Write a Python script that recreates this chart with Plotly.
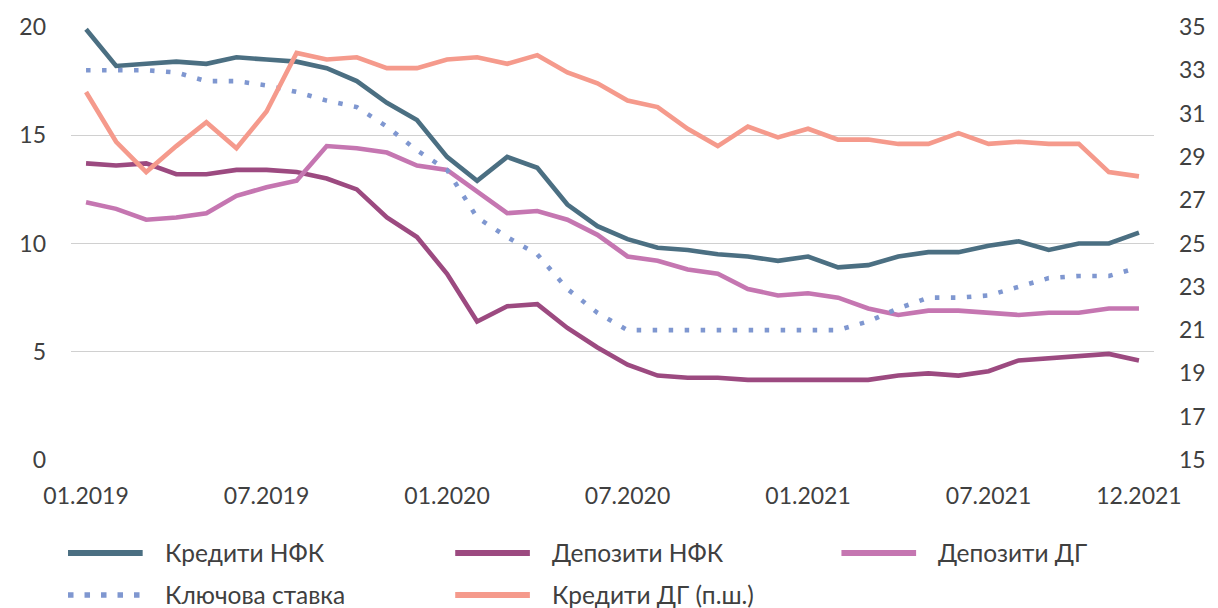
import plotly.graph_objects as go

# ---- data ----
months = [f"{m:02d}.{y}" for y in (2019, 2020, 2021) for m in range(1, 13)]

credits_nfk = [19.9, 18.2, 18.3, 18.4, 18.3, 18.6, 18.5, 18.4, 18.1, 17.5, 16.5, 15.7,
               14.0, 12.9, 14.0, 13.5, 11.8, 10.8, 10.2, 9.8, 9.7, 9.5, 9.4, 9.2,
               9.4, 8.9, 9.0, 9.4, 9.6, 9.6, 9.9, 10.1, 9.7, 10.0, 10.0, 10.5]
deposits_nfk = [13.7, 13.6, 13.7, 13.2, 13.2, 13.4, 13.4, 13.3, 13.0, 12.5, 11.2, 10.3,
                8.6, 6.4, 7.1, 7.2, 6.1, 5.2, 4.4, 3.9, 3.8, 3.8, 3.7, 3.7,
                3.7, 3.7, 3.7, 3.9, 4.0, 3.9, 4.1, 4.6, 4.7, 4.8, 4.9, 4.6]
deposits_hh = [11.9, 11.6, 11.1, 11.2, 11.4, 12.2, 12.6, 12.9, 14.5, 14.4, 14.2, 13.6,
               13.4, 12.4, 11.4, 11.5, 11.1, 10.4, 9.4, 9.2, 8.8, 8.6, 7.9, 7.6,
               7.7, 7.5, 7.0, 6.7, 6.9, 6.9, 6.8, 6.7, 6.8, 6.8, 7.0, 7.0]
key_rate = [18.0, 18.0, 18.0, 17.9, 17.5, 17.5, 17.3, 17.0, 16.6, 16.3, 15.4, 14.3,
            13.4, 11.2, 10.3, 9.5, 7.9, 6.8, 6.0, 6.0, 6.0, 6.0, 6.0, 6.0,
            6.0, 6.0, 6.4, 7.0, 7.5, 7.5, 7.6, 8.0, 8.4, 8.5, 8.5, 8.9]
credits_hh = [32.0, 29.7, 28.3, 29.5, 30.6, 29.4, 31.1, 33.8, 33.5, 33.6, 33.1, 33.1,
              33.5, 33.6, 33.3, 33.7, 32.9, 32.4, 31.6, 31.3, 30.3, 29.5, 30.4, 29.9,
              30.3, 29.8, 29.8, 29.6, 29.6, 30.1, 29.6, 29.7, 29.6, 29.6, 28.3, 28.1]

names = ["Кредити НФК", "Депозити НФК", "Депозити ДГ", "Ключова ставка", "Кредити ДГ (п.ш.)"]
x_tick_labels = ["01.2019", "07.2019", "01.2020", "07.2020", "01.2021", "07.2021", "12.2021"]
left_ticks = [0, 5, 10, 15, 20]
right_ticks = [15, 17, 19, 21, 23, 25, 27, 29, 31, 33, 35]

# ---- styles ----
colors = ["#4b6f82", "#9c4a80", "#c576b1", "#7f97d0", "#f59a8c"]
dashes = ["solid", "solid", "solid", "4.5px,11.5px", "solid"]
series = [credits_nfk, deposits_nfk, deposits_hh, key_rate, credits_hh]
axes = ["y", "y", "y", "y", "y2"]
FONT = "Lato"
TXT = "#404040"

fig = go.Figure()
for name, vals, col, dsh, ax in zip(names, series, colors, dashes, axes):
    fig.add_trace(go.Scatter(x=months, y=vals, name=name, mode="lines", yaxis=ax,
                             line=dict(color=col, width=4.6, dash=dsh),
                             showlegend=False))

# plot area in pixels
W, H = 1218, 608
L, R, T, B = 71, 59, 27, 148
pw, ph = W - L - R, H - T - B

def px(xp):
    return (xp - L) / pw

def py(yp):
    return (H - B - yp) / ph

# custom legend (line samples + labels)
legend_pos = [(68, 553), (457, 553), (845, 553), (68, 595), (457, 595)]
shapes = []
annotations = []
for (lx, ly), name, col, dsh in zip(legend_pos, names, colors, dashes):
    shapes.append(dict(type="line", xref="paper", yref="paper",
                       x0=px(lx), x1=px(lx + 75), y0=py(ly), y1=py(ly),
                       line=dict(color=col, width=6 if dsh == "solid" else 5.5,
                                 dash=dsh if dsh == "solid" else "5.5px,11px")))
    annotations.append(dict(xref="paper", yref="paper", x=px(lx + 96), y=py(ly - 1),
                            text=name, showarrow=False, xanchor="left", yanchor="middle",
                            borderpad=0,
                            font=dict(family=FONT, size=24.5, color=TXT)))

fig.update_layout(
    width=W, height=H,
    margin=dict(l=L, r=R, t=T, b=B),
    paper_bgcolor="white", plot_bgcolor="white",
    font=dict(family=FONT, size=23, color=TXT),
    shapes=shapes, annotations=annotations,
    xaxis=dict(type="category", range=[-0.5, 35.5], tickvals=x_tick_labels,
               ticktext=x_tick_labels, showgrid=False, zeroline=False, showline=False,
               ticks="", ticklabelstandoff=20, tickfont=dict(size=23, color=TXT)),
    yaxis=dict(range=[0, 20], tickvals=left_ticks, showgrid=True, gridcolor="#d0d0d0",
               gridwidth=1.4, zeroline=False, showline=False, ticks="",
               ticklabelstandoff=24, tickfont=dict(size=23, color=TXT)),
    yaxis2=dict(range=[15, 35], tickvals=right_ticks, overlaying="y", side="right",
                showgrid=False, zeroline=False, showline=False, ticks="",
                ticklabelstandoff=24, tickfont=dict(size=23, color=TXT)),
)

fig.write_html("out.html", config={"displayModeBar": False},
               post_script="document.body.style.margin='0px';")
